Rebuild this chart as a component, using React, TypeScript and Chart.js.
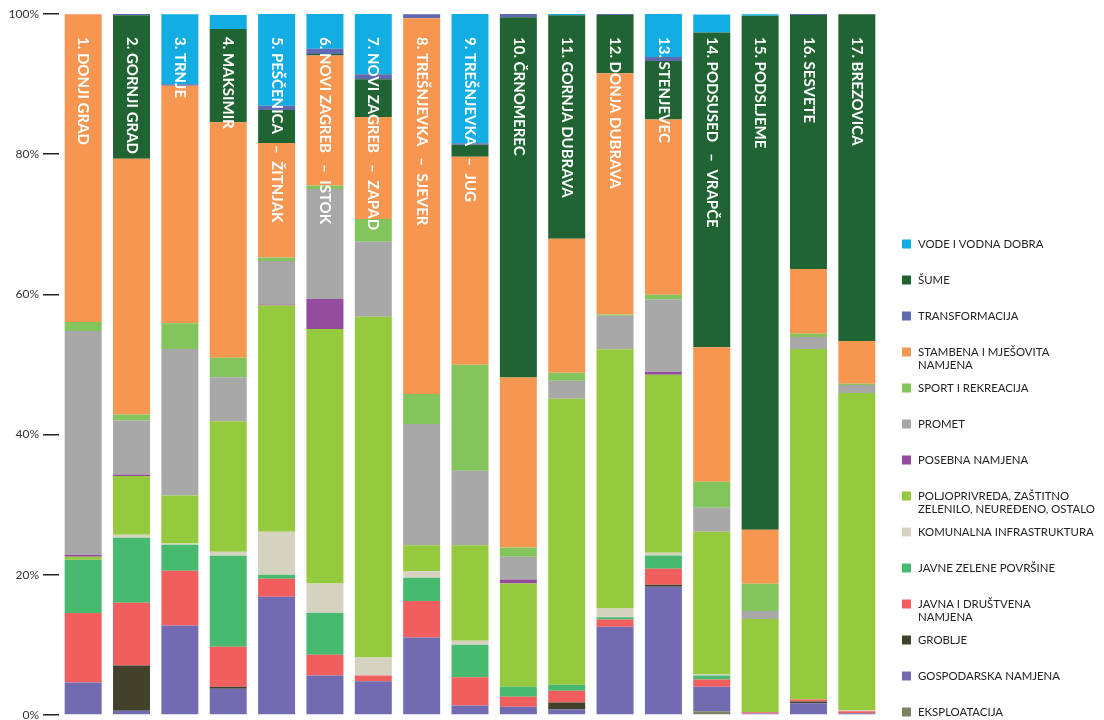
import { useEffect, useRef } from "react";
import { Chart, registerables } from "chart.js";

Chart.register(...registerables);

const SEP = " \u2002–\u2002";

const categories = [
  "1. DONJI GRAD",
  "2. GORNJI GRAD",
  "3. TRNJE",
  "4. MAKSIMIR",
  "5. PEŠČENICA" + SEP + "ŽITNJAK",
  "6. NOVI ZAGREB" + SEP + "ISTOK",
  "7. NOVI ZAGREB" + SEP + "ZAPAD",
  "8. TREŠNJEVKA" + SEP + "SJEVER",
  "9. TREŠNJEVKA" + SEP + "JUG",
  "10. ČRNOMEREC",
  "11. GORNJA DUBRAVA",
  "12. DONJA DUBRAVA",
  "13. STENJEVEC",
  "14. PODSUSED" + SEP + "VRAPČE",
  "15. PODSLJEME",
  "16. SESVETE",
  "17. BREZOVICA",
];

const eksploatacija = [0, 0, 0, 0, 0, 0, 0, 0, 0, 0, 0, 0, 0, 0.52, 0, 0, 0];
const gospodarska = [4.65, 0.6, 12.78, 3.75, 16.87, 5.65, 4.8, 11.07, 1.37, 1.18, 0.8, 12.6, 18.3, 3.5, 0.2, 1.66, 0.25];
const groblje = [0, 6.47, 0, 0.28, 0, 0, 0, 0, 0, 0, 1.0, 0, 0.28, 0, 0, 0.28, 0];
const javnaDrustvena = [9.9, 8.95, 7.8, 5.7, 2.57, 2.95, 0.85, 5.2, 4.0, 1.42, 1.67, 1.03, 2.28, 1.05, 0.2, 0.28, 0.28];
const javneZelene = [7.6, 9.26, 3.7, 13.0, 0.57, 6.0, 0, 3.3, 4.66, 1.43, 0.85, 0.3, 1.9, 0.57, 0, 0, 0];
const komunalna = [0, 0.43, 0.19, 0.57, 6.14, 4.17, 2.55, 0.95, 0.57, 0, 0, 1.26, 0.38, 0.2, 0, 0, 0.2];
const poljoprivreda = [0.42, 8.4, 6.85, 18.6, 32.26, 36.3, 48.6, 3.7, 13.6, 14.74, 40.8, 37.0, 25.4, 20.3, 13.3, 50.0, 45.2];
const posebna = [0.3, 0.2, 0, 0, 0.15, 4.28, 0, 0, 0, 0.57, 0, 0, 0.43, 0, 0, 0, 0];
const promet = [31.9, 7.7, 20.9, 6.27, 6.2, 15.7, 10.7, 17.3, 10.65, 3.23, 2.57, 4.75, 10.3, 3.42, 1.14, 1.71, 1.14];
const sport = [1.3, 0.85, 3.65, 2.8, 0.5, 0.48, 3.25, 4.28, 15.1, 1.33, 1.14, 0.2, 0.67, 3.7, 3.9, 0.47, 0.2];
const stambena = [43.9, 36.5, 33.9, 33.6, 16.35, 18.55, 14.55, 53.6, 29.7, 24.24, 19.1, 34.4, 25.0, 19.2, 7.7, 9.24, 6.07];
const sume = [0, 20.45, 0, 13.3, 4.7, 0.2, 5.4, 0, 1.7, 51.4, 31.9, 8.3, 8.37, 44.9, 73.3, 36.2, 46.63];
const transformacija = [0, 0.25, 0.2, 0, 0.6, 0.75, 0.7, 0.56, 0.2, 0.5, 0, 0.24, 0.57, 0, 0, 0.2, 0];
const vode = [0, 0, 10.0, 2.0, 13.1, 5.0, 8.6, 0, 18.5, 0, 0.2, 0, 6.13, 2.57, 0.24, 0, 0];

const yTicks = [0, 20, 40, 60, 80, 100];

// stack order, bottom first
const seriesDefs = [
  { key: "EKSPLOATACIJA", lines: ["EKSPLOATACIJA"], data: eksploatacija, color: "#7b8366" },
  { key: "GOSPODARSKA", lines: ["GOSPODARSKA NAMJENA"], data: gospodarska, color: "#726bb1" },
  { key: "GROBLJE", lines: ["GROBLJE"], data: groblje, color: "#42412b" },
  { key: "JAVNA", lines: ["JAVNA I DRUŠTVENA", "NAMJENA"], data: javnaDrustvena, color: "#f05e5e" },
  { key: "ZELENE", lines: ["JAVNE ZELENE POVRŠINE"], data: javneZelene, color: "#48ba70" },
  { key: "KOMUNALNA", lines: ["KOMUNALNA INFRASTRUKTURA"], data: komunalna, color: "#d5d3c0" },
  { key: "POLJOPRIVREDA", lines: ["POLJOPRIVREDA, ZAŠTITNO", "ZELENILO, NEUREĐENO, OSTALO"], data: poljoprivreda, color: "#95c93e" },
  { key: "POSEBNA", lines: ["POSEBNA NAMJENA"], data: posebna, color: "#944c9c" },
  { key: "PROMET", lines: ["PROMET"], data: promet, color: "#a8a8a8" },
  { key: "SPORT", lines: ["SPORT I REKREACIJA"], data: sport, color: "#83c45d" },
  { key: "STAMBENA", lines: ["STAMBENA I MJEŠOVITA", "NAMJENA"], data: stambena, color: "#f79651" },
  { key: "SUME", lines: ["ŠUME"], data: sume, color: "#216434" },
  { key: "TRANSFORMACIJA", lines: ["TRANSFORMACIJA"], data: transformacija, color: "#5f69b0" },
  { key: "VODE", lines: ["VODE I VODNA DOBRA"], data: vode, color: "#12aee3" },
];

const legendOrder = [
  "VODE", "SUME", "TRANSFORMACIJA", "STAMBENA", "SPORT", "PROMET", "POSEBNA",
  "POLJOPRIVREDA", "KOMUNALNA", "ZELENE", "JAVNA", "GROBLJE", "GOSPODARSKA", "EKSPLOATACIJA",
];

const barLabelPlugin = {
  id: "barLabels",
  afterDatasetsDraw(chart: any) {
    const { ctx, chartArea, scales } = chart;
    const x = scales.x;
    ctx.save();
    ctx.font = "bold 15px Lato";
    ctx.fillStyle = "#ffffff";
    ctx.textAlign = "left";
    ctx.textBaseline = "middle";
    categories.forEach((c, i) => {
      const px = x.getPixelForValue(i);
      ctx.save();
      ctx.translate(px, chartArea.top + 23);
      ctx.rotate(Math.PI / 2);
      ctx.fillText(c, 0, 0);
      ctx.restore();
    });
    ctx.restore();
  },
};

const customLegendPlugin = {
  id: "customLegend",
  afterDraw(chart: any) {
    const { ctx } = chart;
    const boxX = 902;
    const textX = 918;
    const startY = 244;
    const step = 36;
    const lineH = 13.5;
    ctx.save();
    ctx.font = "11.4px Lato";
    ctx.textAlign = "left";
    ctx.textBaseline = "middle";
    legendOrder.forEach((k, i) => {
      const def = seriesDefs.find((d) => d.key === k)!;
      const y = startY + i * step;
      ctx.fillStyle = def.color;
      ctx.fillRect(boxX, y - 4.5, 9, 9);
      ctx.fillStyle = "#222222";
      def.lines.forEach((ln, j) => {
        ctx.fillText(ln, textX, y + j * lineH);
      });
    });
    ctx.restore();
  },
};

export default function App() {
  const ref = useRef<HTMLCanvasElement>(null);
  useEffect(() => {
    const chart = new Chart(ref.current!, {
      type: "bar",
      data: {
        labels: categories,
        datasets: seriesDefs.map((d) => ({
          label: d.lines.join(" "),
          data: d.data,
          backgroundColor: d.color,
          borderWidth: 0,
          categoryPercentage: 1,
          barPercentage: 0.765,
        })),
      },
      options: {
        animation: false,
        responsive: true,
        maintainAspectRatio: false,
        layout: { padding: { left: 0, right: 223, top: 14, bottom: 5 } },
        plugins: {
          legend: { display: false },
          tooltip: { enabled: false },
        },
        scales: {
          x: {
            stacked: true,
            display: false,
          },
          y: {
            stacked: true,
            min: 0,
            max: 100,
            afterBuildTicks: (scale: any) => {
              scale.ticks = yTicks.map((v) => ({ value: v }));
            },
            afterFit: (scale: any) => {
              scale.width = 59;
              scale.paddingTop = 0;
              scale.paddingBottom = 0;
            },
            border: { display: false },
            grid: {
              drawOnChartArea: false,
              drawTicks: true,
              tickLength: 16,
              color: "#222222",
              lineWidth: 1.5,
            },
            ticks: {
              padding: 4,
              color: "#333333",
              font: { family: "Lato", size: 12 },
              callback: (v: any) => v + "%",
            },
          },
        },
      },
      plugins: [barLabelPlugin, customLegendPlugin],
    });
    return () => chart.destroy();
  }, []);
  return (
    <div style={{ position: "fixed", left: 0, top: 0, width: 1104, height: 720 }}>
      <canvas ref={ref} />
    </div>
  );
}
